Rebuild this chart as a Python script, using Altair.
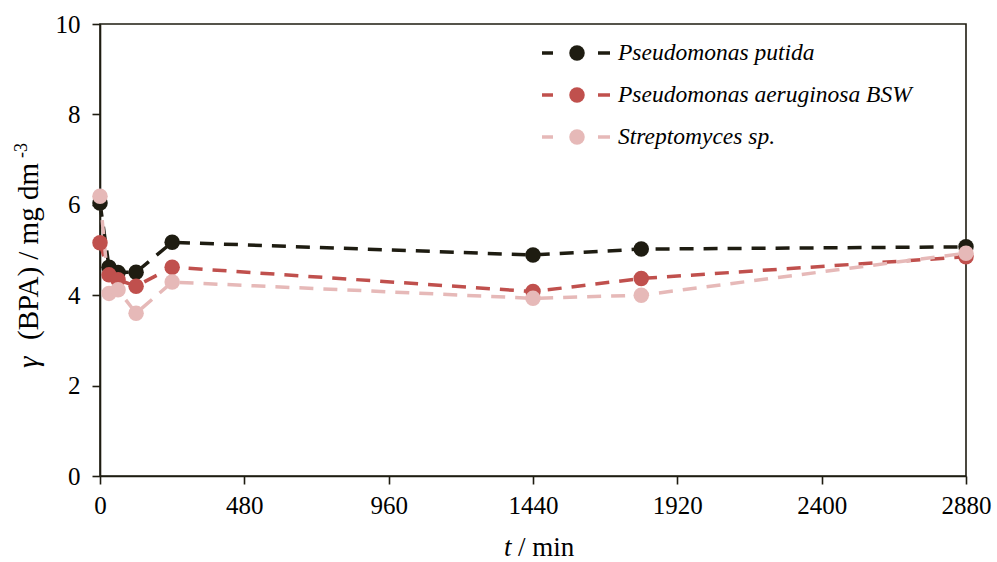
import altair as alt
import pandas as pd

# Sampling times (min)
times = [0, 30, 60, 120, 240, 1440, 1800, 2880]

# BPA concentration (mg dm-3) for each strain
putida = [6.04, 4.62, 4.50, 4.51, 5.17, 4.89, 5.02, 5.07]
aeruginosa = [5.16, 4.45, 4.34, 4.20, 4.62, 4.08, 4.37, 4.85]
streptomyces = [6.19, 4.04, 4.12, 3.60, 4.29, 3.93, 4.00, 4.93]

series_names = ["Pseudomonas putida", "Pseudomonas aeruginosa BSW", "Streptomyces sp."]
series_colors = ["#1e1c11", "#c0504d", "#e6b9b8"]

x_ticks = [0, 480, 960, 1440, 1920, 2400, 2880]
y_ticks = [0, 2, 4, 6, 8, 10]

rows = []
for k, (name, vals) in enumerate(zip(series_names, [putida, aeruginosa, streptomyces])):
    for t, v in zip(times, vals):
        rows.append({"series": name, "k": k, "t": t, "c": v})
df = pd.DataFrame(rows)

FONT = "Liberation Serif"
INK = "#1e1c11"
LW = 3.5

series_scale = alt.Scale(domain=series_names, range=series_colors)

x_enc = alt.X(
    "t:Q",
    scale=alt.Scale(domain=[0, 2880], nice=False, zero=False),
    axis=alt.Axis(values=x_ticks, title=None, format="d", labelPadding=9,
                  labelFlush=False),
)
y_enc = alt.Y(
    "c:Q",
    scale=alt.Scale(domain=[0, 10], nice=False),
    axis=alt.Axis(values=y_ticks, title=None, format="d", labelPadding=12),
)

# Data series: dashed lines with filled circle markers
lines = alt.Chart(df).mark_line(strokeWidth=LW, strokeDash=[14, 10]).encode(
    x=x_enc, y=y_enc,
    color=alt.Color("series:N", scale=series_scale, legend=None),
    detail="k:O",
    order="t:Q",
)
points = alt.Chart(df).mark_point(filled=True, size=240, opacity=1).encode(
    x=x_enc, y=y_enc,
    color=alt.Color("series:N", scale=series_scale, legend=None),
)
data_layer = alt.layer(lines, points)

# Legend drawn inside the plot area (top right)
leg_df = pd.DataFrame({"series": series_names, "row": [0, 1, 2]})
leg_y = alt.Y("row:Q", scale=alt.Scale(domain=[0, 2], range=[29, 113]), axis=None)
leg_color = alt.Color("series:N", scale=series_scale, legend=None)
leg_base = alt.Chart(leg_df)
leg_dash_l = leg_base.mark_rule(strokeWidth=LW).encode(
    x=alt.value(442), x2=alt.value(453), y=leg_y, color=leg_color)
leg_dash_r = leg_base.mark_rule(strokeWidth=LW).encode(
    x=alt.value(498), x2=alt.value(510), y=leg_y, color=leg_color)
leg_dot = leg_base.mark_point(filled=True, size=240, opacity=1).encode(
    x=alt.value(477), y=leg_y, color=leg_color)
leg_text = leg_base.mark_text(
    align="left", baseline="middle", font=FONT, fontSize=23.5,
    fontStyle="italic", color="#000000",
).encode(x=alt.value(518), y=leg_y, text="series:N")

# Axis titles with italic symbols and a superscript exponent
def label(txt, x, y, size=28, style="normal", angle=0):
    return alt.Chart(pd.DataFrame({"s": [txt]})).mark_text(
        align="left", baseline="alphabetic", font=FONT, fontSize=size,
        fontStyle=style, angle=angle, color="#000000",
    ).encode(x=alt.value(x), y=alt.value(y), text="s:N")

y_title = [
    label("γ", -62, 344, 29, "italic", 270),
    label("(BPA) / mg dm", -62, 316, 29, "normal", 270),
    label("-3", -73, 134, 18, "normal", 270),
]
x_title = [
    label("t", 404, 532, 27, "italic"),
    label("/ min", 418, 532, 27, "normal"),
]

deco_layer = alt.layer(leg_dash_l, leg_dash_r, leg_dot, leg_text, *y_title, *x_title)

chart = alt.layer(data_layer, deco_layer).resolve_scale(
    y="independent"
).properties(
    width=866, height=452,
    autosize=alt.AutoSizeParams(type="none"),
    padding={"left": 100, "top": 24, "right": 31, "bottom": 86},
    background="white",
).configure_view(
    stroke=INK, strokeWidth=1.6,
).configure_axis(
    grid=False,
    domainColor=INK, domainWidth=1.6,
    tickColor=INK, tickWidth=1.6, tickSize=8,
    labelFont=FONT, labelFontSize=25, labelColor="#000000",
)

chart.save("out.html", embed_options={"renderer": "svg", "actions": False})
